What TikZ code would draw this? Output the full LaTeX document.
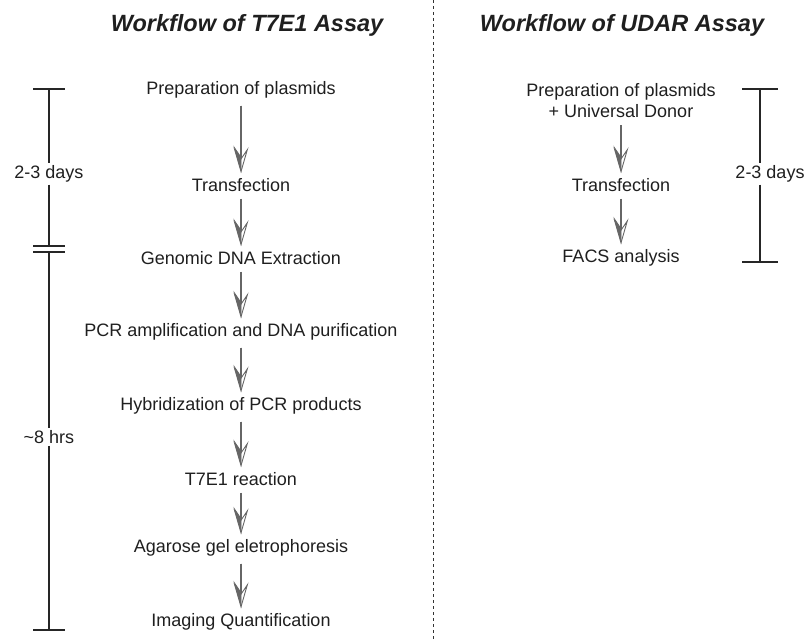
\documentclass[tikz,border=0pt]{standalone}
\usepackage{fontspec}
\setmainfont{Liberation Sans}
\usetikzlibrary{arrows.meta}
\begin{document}
\begin{tikzpicture}[x=1pt,y=-1pt,
  stepnode/.style={font=\fontsize{18}{21}\selectfont, inner sep=2pt, text=black!88},
  titlenode/.style={font=\fontsize{23.5}{27}\selectfont\bfseries\itshape, text=black!88, inner sep=0pt},
  flowbase/.style={draw=black!60, line width=2.2pt, shorten <=5pt, shorten >=3pt,
    -{Stealth[length=26pt,width=15pt,inset=11pt,line width=0.9pt,fill=white]}},
  flowhalf/.style={draw=black!60, line width=2.2pt, shorten <=5pt, shorten >=3pt,
    -{Stealth[harpoon,swap,length=26pt,width=15pt,inset=11pt,line width=0.9pt,fill=black!60]}},
  tl/.style={draw=black!85, line width=1.4pt},
  tlabel/.style={font=\fontsize{18}{21}\selectfont, text=black!88, inner sep=2pt}]
\useasboundingbox (0,0) rectangle (808,642);
% separator
\coordinate (sepT) at (433,0);
\coordinate (sepB) at (433,642);
\draw[dashed, dash pattern=on 3pt off 3pt, line width=0.9pt, black!80] (sepT) -- (sepB);
% titles
\node[titlenode] (t1) at (247,25) {Workflow of T7E1 Assay};
\node[titlenode] (t2) at (622,25) {Workflow of UDAR Assay};
% left steps
\node[stepnode] (s1) at (241,90) {Preparation of plasmids};
\node[stepnode] (s2) at (241,185) {Transfection};
\node[stepnode] (s3) at (241,258) {Genomic DNA Extraction};
\node[stepnode] (s4) at (241,332) {PCR amplification and DNA purification};
\node[stepnode] (s5) at (241,406) {Hybridization of PCR products};
\node[stepnode] (s6) at (241,479) {T7E1 reaction};
\node[stepnode] (s7) at (241,548) {Agarose gel eletrophoresis};
\node[stepnode] (s8) at (241,622) {Imaging Quantification};
% right steps
\node[stepnode, align=center] (r1) at (621,101) {Preparation of plasmids\\+ Universal Donor};
\node[stepnode] (r2) at (621,185) {Transfection};
\node[stepnode] (r3) at (621,258) {FACS analysis};
\foreach \a/\b in {s1/s2,s2/s3,s3/s4,s4/s5,s5/s6,s6/s7,s7/s8,r1/r2,r2/r3}{
  \draw[flowbase] (\a.south) -- (\b.north);
  \draw[flowhalf] (\a.south) -- (\b.north);
}
% left timeline
\coordinate (la) at (49,89);
\coordinate (lb) at (49,246);
\coordinate (lc) at (49,252);
\coordinate (ld) at (49,630);
\node[tlabel] (l1) at (49,174) {2-3 days};
\node[tlabel] (l2) at (49,437) {\textasciitilde 8 hrs};
\draw[tl] (la) -- (l1);
\draw[tl] (l1) -- (lb);
\draw[tl] (lc) -- (l2);
\draw[tl] (l2) -- (ld);
\draw[tl] ([xshift=-16pt]la) -- ([xshift=16pt]la);
\draw[tl] ([xshift=-16pt]lb) -- ([xshift=16pt]lb);
\draw[tl] ([xshift=-16pt]lc) -- ([xshift=16pt]lc);
\draw[tl] ([xshift=-16pt]ld) -- ([xshift=16pt]ld);
% right timeline
\coordinate (ra) at (760,89);
\coordinate (rb) at (760,262);
\node[tlabel] (rl) at (770,174) {2-3 days};
\draw[tl] (ra) -- (ra |- rl.north);
\draw[tl] (rb |- rl.south) -- (rb);
\draw[tl] ([xshift=-18pt]ra) -- ([xshift=18pt]ra);
\draw[tl] ([xshift=-18pt]rb) -- ([xshift=18pt]rb);
\end{tikzpicture}
\end{document}
